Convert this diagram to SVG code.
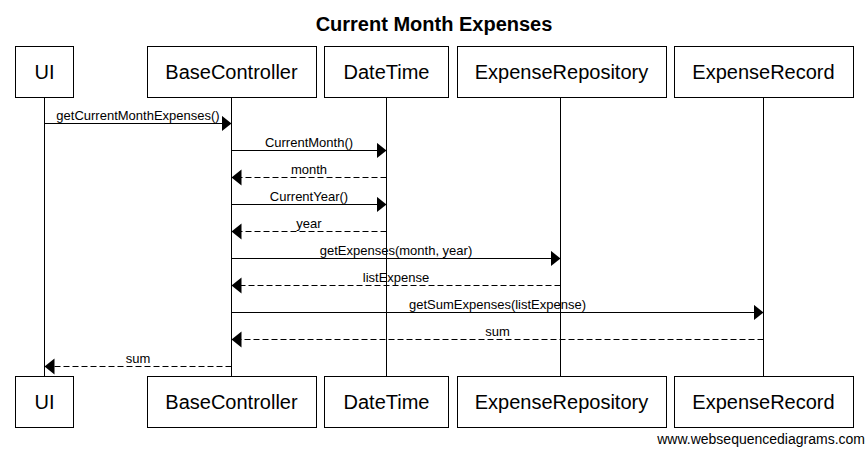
<svg xmlns="http://www.w3.org/2000/svg" width="866" height="449" viewBox="0 0 866 449">
<style>
  .box { fill: #ffffff; stroke: #000000; stroke-width: 1; }
  .lifeline { stroke: #000000; stroke-width: 1; fill: none; }
  .name { font-family: "Liberation Sans", Arial, sans-serif; font-size: 20px; fill: #000000; text-anchor: middle; }
  .msg { stroke: #000000; stroke-width: 1; fill: none; marker-end: url(#head); }
  .ret { stroke-dasharray: 6,3; }
  .lbl { font-family: "Liberation Sans", Arial, sans-serif; font-size: 13px; fill: #000000; text-anchor: middle; }
  .title { font-family: "Liberation Sans", Arial, sans-serif; font-size: 20px; font-weight: bold; fill: #000000; text-anchor: middle; }
  .wm { font-family: "Liberation Sans", Arial, sans-serif; font-size: 14px; fill: #000000; text-anchor: end; }
</style>
<defs>
  <marker id="head" markerUnits="userSpaceOnUse" markerWidth="11" markerHeight="17" refX="10" refY="8" orient="auto" viewBox="0 0 11 17">
    <path d="M0,0 L10,8 L0,16 Z" fill="#000000"/>
  </marker>
</defs>
<rect width="866" height="449" fill="#ffffff"/>
<text class="title" x="434" y="31">Current Month Expenses</text>

<g id="lifelines">
  <line class="lifeline" x1="44.5" y1="97" x2="44.5" y2="376"/>
  <line class="lifeline" x1="231.5" y1="97" x2="231.5" y2="376"/>
  <line class="lifeline" x1="386.5" y1="97" x2="386.5" y2="376"/>
  <line class="lifeline" x1="560.5" y1="97" x2="560.5" y2="376"/>
  <line class="lifeline" x1="763.5" y1="97" x2="763.5" y2="376"/>
</g>

<g id="UI">
  <rect class="box" x="15.5" y="46.5" width="58" height="51"/>
  <text class="name" x="44.5" y="79">UI</text>
  <rect class="box" x="15.5" y="376.5" width="58" height="51"/>
  <text class="name" x="44.5" y="409">UI</text>
</g>
<g id="BaseController">
  <rect class="box" x="147.5" y="46.5" width="169" height="51"/>
  <text class="name" x="231.5" y="79">BaseController</text>
  <rect class="box" x="147.5" y="376.5" width="169" height="51"/>
  <text class="name" x="231.5" y="409">BaseController</text>
</g>
<g id="DateTime">
  <rect class="box" x="324.5" y="46.5" width="124" height="51"/>
  <text class="name" x="386.5" y="79">DateTime</text>
  <rect class="box" x="324.5" y="376.5" width="124" height="51"/>
  <text class="name" x="386.5" y="409">DateTime</text>
</g>
<g id="ExpenseRepository">
  <rect class="box" x="457.5" y="46.5" width="209" height="51"/>
  <text class="name" x="561.5" y="79">ExpenseRepository</text>
  <rect class="box" x="457.5" y="376.5" width="209" height="51"/>
  <text class="name" x="561.5" y="409">ExpenseRepository</text>
</g>
<g id="ExpenseRecord">
  <rect class="box" x="674.5" y="46.5" width="179" height="51"/>
  <text class="name" x="763.5" y="79">ExpenseRecord</text>
  <rect class="box" x="674.5" y="376.5" width="179" height="51"/>
  <text class="name" x="763.5" y="409">ExpenseRecord</text>
</g>

<g id="connectors">
  <line class="msg" x1="44.5" y1="123.5" x2="231.5" y2="123.5"/>
  <text class="lbl" x="138" y="120">getCurrentMonthExpenses()</text>

  <line class="msg" x1="231.5" y1="150.5" x2="386.5" y2="150.5"/>
  <text class="lbl" x="309" y="147">CurrentMonth()</text>

  <line class="msg ret" x1="386.5" y1="177.5" x2="231.5" y2="177.5"/>
  <text class="lbl" x="309" y="174">month</text>

  <line class="msg" x1="231.5" y1="204.5" x2="386.5" y2="204.5"/>
  <text class="lbl" x="309" y="201">CurrentYear()</text>

  <line class="msg ret" x1="386.5" y1="231.5" x2="231.5" y2="231.5"/>
  <text class="lbl" x="309" y="228">year</text>

  <line class="msg" x1="231.5" y1="258.5" x2="560.5" y2="258.5"/>
  <text class="lbl" x="396" y="255">getExpenses(month, year)</text>

  <line class="msg ret" x1="560.5" y1="285.5" x2="231.5" y2="285.5"/>
  <text class="lbl" x="396" y="282">listExpense</text>

  <line class="msg" x1="231.5" y1="312.5" x2="763.5" y2="312.5"/>
  <text class="lbl" x="497.5" y="309">getSumExpenses(listExpense)</text>

  <line class="msg ret" x1="763.5" y1="339.5" x2="231.5" y2="339.5"/>
  <text class="lbl" x="497.5" y="336">sum</text>

  <line class="msg ret" x1="231.5" y1="366.5" x2="44.5" y2="366.5"/>
  <text class="lbl" x="138" y="363">sum</text>
</g>

<text class="wm" x="865" y="444">www.websequencediagrams.com</text>
</svg>
